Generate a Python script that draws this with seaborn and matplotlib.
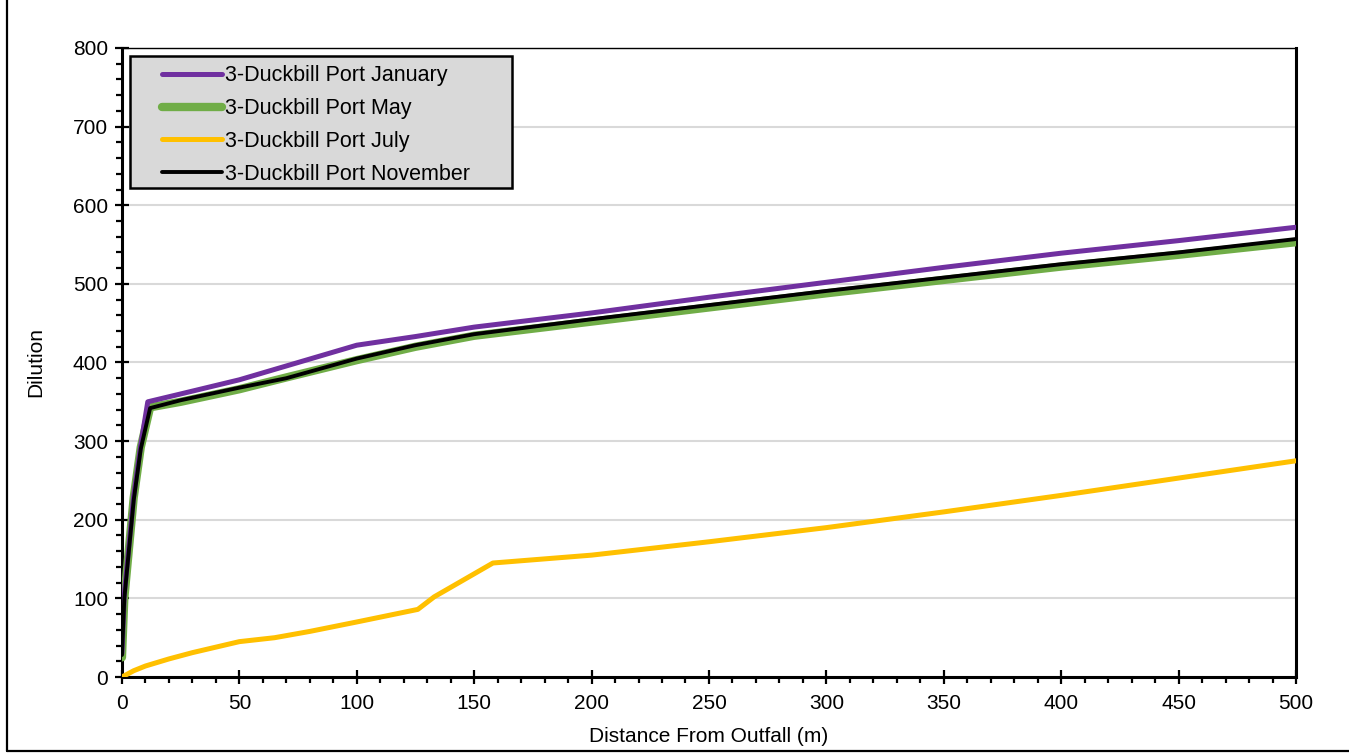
#!/usr/bin/env python3
import matplotlib
matplotlib.use("Agg")
import matplotlib.pyplot as plt
from matplotlib.lines import Line2D
from matplotlib.patches import Rectangle
from matplotlib.ticker import AutoMinorLocator, MultipleLocator
import seaborn as sns

# dilution vs distance
jan_x = [0, 1, 5, 8, 11, 25, 50, 75, 100, 125, 150, 200, 250, 300, 350, 400, 450, 500]
jan_y = [30, 105, 230, 295, 350, 360, 378, 400, 422, 433, 445, 463, 483, 502, 521, 539, 555, 572]

may_x = [0, 1, 5, 8, 12, 25, 50, 70, 100, 125, 150, 200, 250, 300, 350, 400, 450, 500]
may_y = [25, 100, 228, 292, 343, 350, 366, 381, 403, 420, 434, 452, 470, 488, 505, 522, 537, 553]

jul_x = [0, 5, 10, 20, 30, 50, 65, 80, 100, 126, 133, 158, 200, 250, 300, 350, 400, 450, 500]
jul_y = [0, 8, 14, 23, 31, 45, 50, 58, 70, 86, 102, 145, 155, 172, 190, 210, 231, 253, 275]

nov_x = [0, 1, 5, 8, 12, 25, 50, 70, 100, 125, 150, 200, 250, 300, 350, 400, 450, 500]
nov_y = [28, 100, 225, 290, 342, 352, 368, 380, 405, 422, 436, 455, 473, 491, 508, 525, 540, 557]

labels = [
    "3-Duckbill Port January",
    "3-Duckbill Port May",
    "3-Duckbill Port July",
    "3-Duckbill Port November",
]

sns.set_style("ticks")
plt.rcParams["font.family"] = ["Liberation Sans", "DejaVu Sans"]
plt.rcParams["text.color"] = "black"
plt.rcParams["axes.labelcolor"] = "black"

fig = plt.figure(figsize=(13.49, 7.53), dpi=100)
ax = fig.add_axes([0.0904, 0.1009, 0.8703, 0.8354])

# draw order: July, May, January, November (black on top of green)
sns.lineplot(x=jul_x, y=jul_y, ax=ax, color="#FFC000", lw=3.6, sort=False,
             estimator=None, label=labels[2], zorder=3)
sns.lineplot(x=may_x, y=may_y, ax=ax, color="#70AD47", lw=6.0, sort=False,
             estimator=None, label=labels[1], zorder=3)
sns.lineplot(x=jan_x, y=jan_y, ax=ax, color="#7030A0", lw=3.6, sort=False,
             estimator=None, label=labels[0], zorder=4)
sns.lineplot(x=nov_x, y=nov_y, ax=ax, color="black", lw=2.8, sort=False,
             estimator=None, label=labels[3], zorder=5)

ax.set_xlim(0, 500)
ax.set_ylim(0, 800)
ax.xaxis.set_major_locator(MultipleLocator(50))
ax.yaxis.set_major_locator(MultipleLocator(100))
ax.xaxis.set_minor_locator(AutoMinorLocator(5))
ax.yaxis.set_minor_locator(AutoMinorLocator(5))

ax.grid(axis="y", which="major", color="#D9D9D9", lw=1.5, zorder=0)
ax.set_axisbelow(True)

for side in ["left", "bottom", "right"]:
    ax.spines[side].set_linewidth(2.2)
    ax.spines[side].set_color("black")
ax.spines["top"].set_linewidth(1.0)
ax.spines["top"].set_color("black")

ax.tick_params(which="major", direction="inout", length=10, width=1.6,
               labelsize=15, colors="black")
ax.tick_params(axis="y", which="major", pad=5)
ax.tick_params(axis="x", which="major", pad=7)
ax.tick_params(which="minor", direction="out", length=4, width=1.6, colors="black")

ax.set_xlabel("Distance From Outfall (m)", fontsize=15, labelpad=10, color="black")
ax.set_ylabel("Dilution", fontsize=15, labelpad=20, color="black")

# legend box drawn separately so the left padding matches the original
ax.add_patch(Rectangle((0.0068, 0.7774), 0.3254, 0.2099, transform=ax.transAxes,
                       facecolor="#D9D9D9", edgecolor="black", lw=1.8, zorder=9))

handles, hlabels = ax.get_legend_handles_labels()
order = [hlabels.index(l) for l in labels]
leg = ax.legend(
    [handles[i] for i in order], [hlabels[i] for i in order],
    loc="upper left", bbox_to_anchor=(0.034, 0.9725),
    borderaxespad=0, borderpad=0, fontsize=15.5, frameon=False,
    handlelength=2.8, handletextpad=0.14, labelspacing=0.55,
)
leg.set_zorder(10)
for t in leg.get_texts():
    t.set_color("black")

# outer frame lines of the original picture
fig.add_artist(Line2D([7 / 1349, 7 / 1349], [2 / 753, 1.0], color="black", lw=1.6))
fig.add_artist(Line2D([7 / 1349, 1.0], [2 / 753, 2 / 753], color="black", lw=1.6))

fig.savefig("out.png", dpi=100)
